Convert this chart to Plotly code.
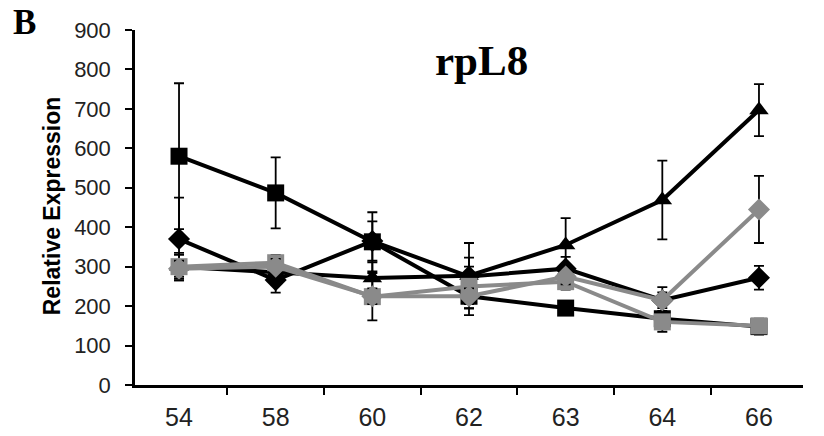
import plotly.graph_objects as go

categories = ["54", "58", "60", "62", "63", "64", "66"]

black_square = [580, 487, 363, 225, 195, 168, 148]
black_square_err = [185, 90, 75, 30, 15, 20, 20]

black_diamond = [370, 266, 365, 275, 295, 215, 272]
black_diamond_err = [105, 32, 50, 25, 30, 33, 30]

black_triangle = [300, 285, 271, 277, 355, 469, 697]
black_triangle_err = [30, 30, 40, 83, 68, 100, 66]

gray_square = [300, 310, 224, 250, 262, 160, 150]
gray_square_err = [35, 20, 60, 73, 20, 25, 15]

gray_diamond = [295, 300, 225, 225, 275, 215, 445]
gray_diamond_err = [20, 20, 20, 20, 20, 20, 85]

BLACK = "#000000"
GRAY = "#8a8a8a"

series = [
    (black_square, black_square_err, BLACK, "square", 17),
    (black_diamond, black_diamond_err, BLACK, "diamond", 17),
    (black_triangle, black_triangle_err, BLACK, "triangle-up", 17),
    (gray_square, gray_square_err, GRAY, "square", 17),
    (gray_diamond, gray_diamond_err, GRAY, "diamond", 17),
]

fig = go.Figure()
for vals, errs, color, sym, size in series:
    fig.add_trace(go.Scatter(
        x=categories, y=vals, mode="lines+markers",
        line=dict(color=color, width=4),
        marker=dict(symbol=sym, size=size, color=color),
        error_y=dict(type="data", array=errs, visible=True,
                     color=BLACK, thickness=1.8, width=5),
        showlegend=False,
    ))

fig.update_layout(
    width=824, height=436,
    margin=dict(l=135, r=21, t=30, b=51, autoexpand=False),
    paper_bgcolor="white", plot_bgcolor="white",
    font=dict(family="Liberation Sans, Arial", size=22, color="#222"),
    xaxis=dict(
        type="category", tickson="boundaries", automargin=False,
        showline=True, linecolor=BLACK, linewidth=2.5,
        ticks="outside", ticklen=7, tickwidth=2, tickcolor=BLACK,
        showgrid=False, zeroline=False,
        tickfont=dict(size=25), ticklabelstandoff=8,
    ),
    yaxis=dict(
        range=[0, 900], tickvals=[0, 100, 200, 300, 400, 500, 600, 700, 800, 900],
        automargin=False,
        showline=True, linecolor=BLACK, linewidth=2.5,
        ticks="outside", ticklen=7, tickwidth=2, tickcolor=BLACK,
        showgrid=False, zeroline=False,
        tickfont=dict(size=22), ticklabelstandoff=10,
    ),
    annotations=[
        dict(text="<b>rpL8</b>", x=0.518, y=0.915, xref="paper", yref="paper",
             xanchor="center", yanchor="middle",
             showarrow=False, font=dict(family="Liberation Serif, Times New Roman", size=43, color=BLACK)),
        dict(text="<b>B</b>", x=-0.166, y=1.02, xref="paper", yref="paper",
             xanchor="center", yanchor="middle",
             showarrow=False, font=dict(family="Liberation Serif, Times New Roman", size=35, color=BLACK)),
        dict(text="<b>Relative Expression</b>", x=-0.124, y=0.504, xref="paper", yref="paper",
             xanchor="center", yanchor="middle",
             showarrow=False, textangle=-90,
             font=dict(family="Liberation Sans, Arial", size=23, color=BLACK)),
    ],
)

fig.write_html("out.html")
